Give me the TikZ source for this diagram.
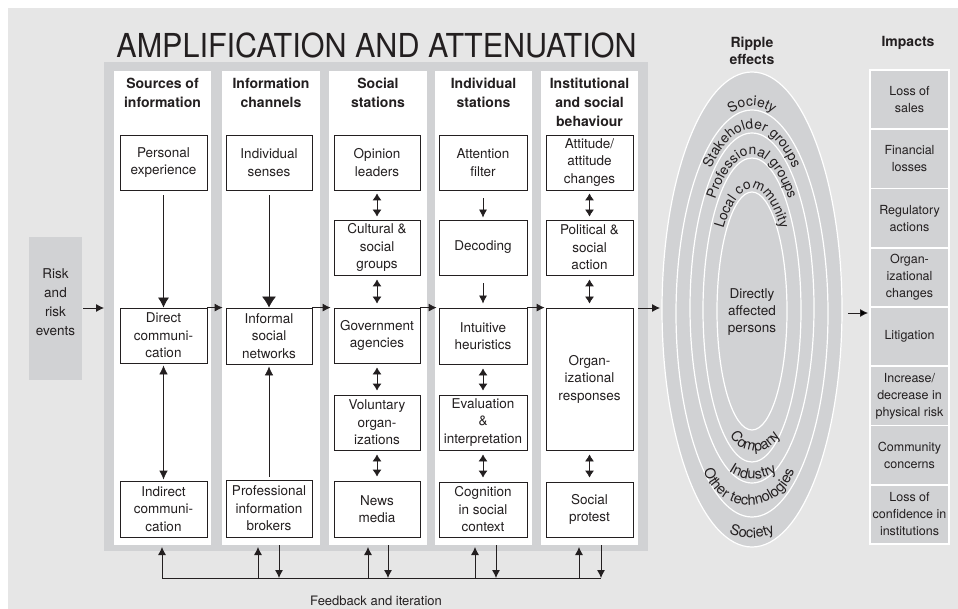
\documentclass[tikz,border=0pt]{standalone}
\usepackage{fontspec}
\setmainfont{TeX Gyre Heros}
\newfontfamily\titlefont[FakeStretch=0.925]{TeX Gyre Heros}
\usetikzlibrary{arrows.meta,decorations.text}
\definecolor{bgc}{HTML}{E6E6E6}
\definecolor{panelc}{HTML}{D1D2D4}
\definecolor{ink}{HTML}{231F20}
\begin{document}
\begin{tikzpicture}[x=1pt,y=-1pt,
  every node/.style={text=ink},
  box/.style={draw=ink, line width=0.8pt, fill=white, align=center, inner sep=1pt,
    font=\fontsize{13.5}{17.5}\selectfont},
  hdr/.style={anchor=north, inner sep=0pt, align=center, font=\bfseries\fontsize{14}{19}\selectfont},
  imp/.style={draw=white, line width=1.5pt, fill=panelc, align=center, minimum width=79pt,
    minimum height=59.25pt, inner sep=0pt, font=\fontsize{12.5}{17}\selectfont},
  conn/.style={draw=ink, line width=0.8pt},
  arr/.style={conn, -{Latex[length=8pt,width=8pt]}},
  darr/.style={conn, {Latex[length=7pt,width=9pt]}-{Latex[length=7pt,width=9pt]}},
  ring/.style={decorate, decoration={text along path, text align=center, text color=ink,
    text={|\fontsize{13.8}{13.8}\selectfont|#1}}},
  ringb/.style={decorate, decoration={text along path, text align=center, text color=ink,
    text={|\fontsize{14.5}{14.5}\selectfont|#1}}},
  ringline/.style={draw=white, line width=1.2pt}
]
\useasboundingbox (0,0) rectangle (958,609);
\fill[bgc] (8,8) rectangle (958,609);

% title
\node[anchor=base, inner sep=0pt, font=\titlefont\fontsize{33}{33}\selectfont] (title) at (376.5,58) {AMPLIFICATION AND ATTENUATION};

% panel and columns
\fill[panelc] (104,62) rectangle (648,551);
\foreach \a/\b in {114/211,222/320,329/427,435/532,541/638}
  \fill[white] (\a,71) rectangle (\b,545);

% headers
\node[hdr] (h1) at (162.5,77.5) {Sources of\\information};
\node[hdr] (h2) at (271,77.5) {Information\\channels};
\node[hdr] (h3) at (378,77.5) {Social\\stations};
\node[hdr] (h4) at (483.5,77.5) {Individual\\stations};
\node[hdr] (h5) at (589.5,77.5) {Institutional\\and social\\behaviour};

% risk box
\fill[panelc] (29,237) rectangle (82,380);
\node[align=center, inner sep=0pt, font=\fontsize{13.5}{19}\selectfont] (risk) at (55.5,302.5) {Risk\\and\\risk\\events};
\coordinate (riskout) at (83,308);
\coordinate (panelin) at (104,308);

% column 1
\node[box, minimum width=87pt, minimum height=55pt] (pe) at (163.5,162.5) {Personal\\experience};
\node[box, minimum width=87pt, minimum height=55pt] (dc) at (163.5,335.5) {Direct\\communi-\\cation};
\node[box, minimum width=87pt, minimum height=56pt] (ic) at (163.5,509) {Indirect\\communi-\\cation};
% column 2
\node[box, minimum width=86pt, minimum height=55pt] (is) at (269,162.5) {Individual\\senses};
\node[box, minimum width=86pt, minimum height=56pt] (isn) at (269,336) {Informal\\social\\networks};
\node[box, minimum width=86pt, minimum height=57pt] (pib) at (269,508.5) {Professional\\information\\brokers};
% column 3
\node[box, minimum width=86pt, minimum height=55pt] (ol) at (377,162.5) {Opinion\\leaders};
\node[box, minimum width=86pt, minimum height=55pt] (csg) at (377,247.5) {Cultural \&\\social\\groups};
\node[box, minimum width=86pt, minimum height=55pt] (ga) at (377,335.5) {Government\\agencies};
\node[box, minimum width=86pt, minimum height=55pt] (vo) at (377,422.5) {Voluntary\\organ-\\izations};
\node[box, minimum width=86pt, minimum height=56pt] (nm) at (377,509) {News\\media};
% column 4
\node[box, minimum width=88pt, minimum height=55pt] (af) at (483,162.5) {Attention\\filter};
\node[box, minimum width=88pt, minimum height=55pt] (dec) at (483,247.5) {Decoding};
\node[box, minimum width=88pt, minimum height=56pt] (ih) at (483,336) {Intuitive\\heuristics};
\node[box, minimum width=88pt, minimum height=55pt] (ei) at (483,422.5) {Evaluation\\\&\\interpretation};
\node[box, minimum width=88pt, minimum height=55pt] (cog) at (483,509.5) {Cognition\\in social\\context};
% column 5
\node[box, minimum width=87pt, minimum height=55pt] (att) at (589.5,162.5) {Attitude/\\attitude\\changes};
\node[box, minimum width=87pt, minimum height=55pt] (psa) at (589.5,247.5) {Political \&\\social\\action};
\node[box, minimum width=87pt, minimum height=142pt] (org) at (589.5,379) {Organ-\\izational\\responses};
\node[box, minimum width=87pt, minimum height=55pt] (sp) at (589.5,509.5) {Social\\protest};

% vertical connectors
\draw[conn, -{Latex[length=10pt,width=11pt]}, shorten <=5pt] (pe) -- (dc);
\draw[conn, {Latex[length=9pt,width=8.5pt]}-{Latex[length=9pt,width=8.5pt]}, shorten <=2pt, shorten >=1pt] (dc) -- (ic);
\draw[conn, -{Latex[length=11pt,width=14pt]}, shorten <=5pt] (is) -- (isn);
\draw[conn, -{Latex[length=9pt,width=8.5pt]}, shorten <=3pt, shorten >=2pt] (pib) -- (isn);
\draw[darr, shorten <=3pt, shorten >=3pt] (ol) -- (csg);
\draw[darr, shorten <=4pt, shorten >=4pt] (csg) -- (ga);
\draw[darr, shorten <=4pt, shorten >=4pt] (ga) -- (vo);
\draw[darr, shorten <=4pt, shorten >=4pt] (vo) -- (nm);
\draw[arr, shorten <=8pt, shorten >=2pt] (af) -- (dec);
\draw[arr, shorten <=8pt, shorten >=4pt] (dec) -- (ih);
\draw[darr, shorten <=4pt, shorten >=4pt] (ih) -- (ei);
\draw[darr, shorten <=4pt, shorten >=4pt] (ei) -- (cog);
\draw[darr, shorten <=3pt, shorten >=3pt] (att) -- (psa);
\draw[darr, shorten <=4pt, shorten >=4pt] (psa) -- (org);
\draw[darr, shorten <=4pt, shorten >=4pt] (org) -- (sp);

% horizontal connectors
\draw[arr] (riskout) -- (panelin);
\draw[arr, shorten >=3pt] (dc.north east) -- (isn.north west);
\draw[arr, shorten >=3pt] (isn.north east) -- (ga.north west);
\draw[arr, shorten >=2pt] (ga.north east) -- (ih.north west);
\draw[arr, shorten >=1pt] (ih.north east) -- (org.north west);
\coordinate (colout) at (638,308);
\coordinate (ripin) at (660,308);
\draw[arr] (colout) -- (ripin);

% feedback
\coordinate (fbL) at (162,578);
\coordinate (fbR) at (601,578);
\draw[conn] (fbL) -- (fbR);
\foreach \x/\n in {162/a,258/b,368/c,475/d,579/e}{
  \coordinate (fu\n) at (\x,578);
  \coordinate (fut\n) at (\x,547);
  \draw[arr] (fu\n) -- (fut\n);
}
\foreach \x/\n in {279/a,388/b,496/c,601/d}{
  \coordinate (fd\n) at (\x,545);
  \coordinate (fdt\n) at (\x,578);
  \draw[arr] (fd\n) -- (fdt\n);
}
\node[inner sep=0pt, font=\fontsize{13}{15}\selectfont] (fbl) at (376,601) {Feedback and iteration};

% ripple effects
\node[hdr, font=\bfseries\fontsize{14}{17}\selectfont] (rip) at (752,37) {Ripple\\effects};
\fill[panelc] (752,309.5) ellipse [x radius=90, y radius=237.5];
\draw[ringline] (752,309.5) ellipse [x radius=90, y radius=237.5];
\draw[ringline] (752,313.5) ellipse [x radius=76, y radius=203.5];
\draw[ringline] (752,308) ellipse [x radius=62, y radius=175];
\draw[ringline] (752,310) ellipse [x radius=49, y radius=152];
\draw[ringline] (752,311) ellipse [x radius=35, y radius=119];

\path[ring={Society}] (673,313.5) arc[start angle=180, end angle=360, x radius=79, y radius=207.5];
\path[ring={Stakeholder groups}] (686.5,308) arc[start angle=180, end angle=360, x radius=65.5, y radius=179];
\path[ring={Professional groups}] (699.5,310) arc[start angle=180, end angle=360, x radius=52.5, y radius=155];
\path[ring={Local community}] (713.5,311) arc[start angle=180, end angle=360, x radius=38.5, y radius=122];

\path[ringb={Company}] (727,423) arc[start angle=180, end angle=0, radius=28];
\path[ringb={Industry}] (710,436) arc[start angle=180, end angle=0, radius=43];
\path[ringb={Other technologies}] (702,458) arc[start angle=180, end angle=0, radius=47];
\path[ringb={Society}] (698,484) arc[start angle=180, end angle=0, radius=54];

\node[align=center, inner sep=0pt, font=\fontsize{13.5}{17}\selectfont] (dap) at (752,312.5) {Directly\\affected\\persons};

% impacts
\node[hdr] (imph) at (908,36.5) {Impacts};
\node[imp] (i1) at (909.5,99.6) {Loss of\\sales};
\node[imp] (i2) at (909.5,158.9) {Financial\\losses};
\node[imp] (i3) at (909.5,218.1) {Regulatory\\actions};
\node[imp] (i4) at (909.5,277.4) {Organ-\\izational\\changes};
\node[imp] (i5) at (909.5,336.6) {Litigation};
\node[imp] (i6) at (909.5,395.9) {Increase/\\decrease in\\physical risk};
\node[imp] (i7) at (909.5,455.1) {Community\\concerns};
\node[imp] (i8) at (909.5,514.4) {Loss of\\confidence in\\institutions};
\coordinate (ripout) at (848,313);
\coordinate (impin) at (868,313);
\draw[arr] (ripout) -- (impin);
\end{tikzpicture}
\end{document}
